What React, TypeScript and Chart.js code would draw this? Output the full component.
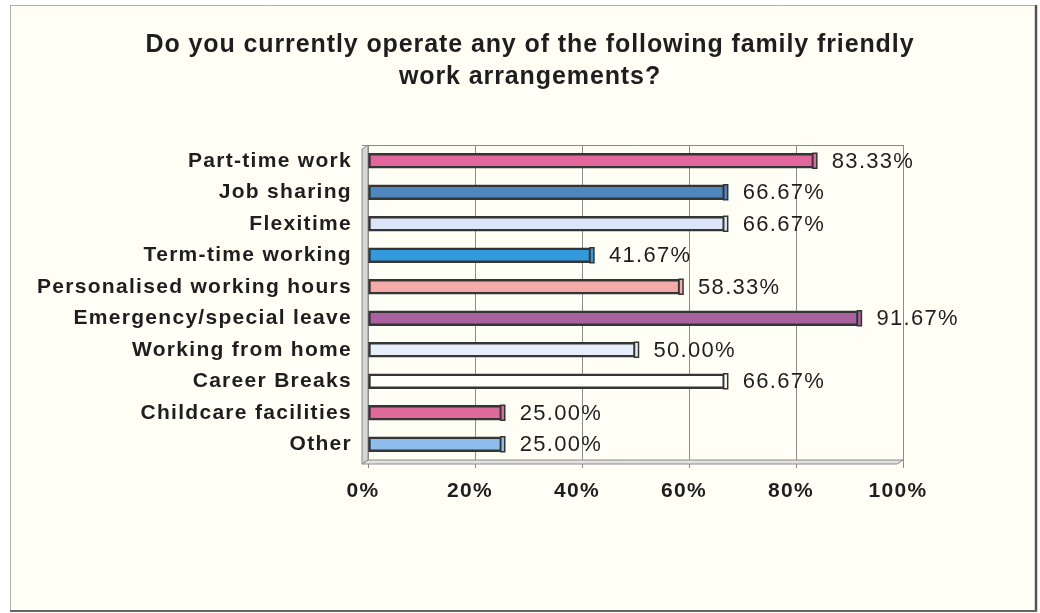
import React, { useEffect, useRef } from 'react';
import { Chart, registerables } from 'chart.js';

Chart.register(...registerables);

const titleLines = [
  'Do you currently operate any of the following family friendly',
  'work arrangements?',
];

const categories = [
  'Part-time work',
  'Job sharing',
  'Flexitime',
  'Term-time working',
  'Personalised working hours',
  'Emergency/special leave',
  'Working from home',
  'Career Breaks',
  'Childcare facilities',
  'Other',
];

const values = [83.33, 66.67, 66.67, 41.67, 58.33, 91.67, 50.0, 66.67, 25.0, 25.0];

const barColors = [
  '#E2679C',
  '#4F86BE',
  '#DCE5F7',
  '#3399DD',
  '#F5AAAA',
  '#A8609E',
  '#E6EEFB',
  '#FFFFFA',
  '#DD6A98',
  '#8EBDEC',
];

const xTickValues = [0, 20, 40, 60, 80, 100];

const W = 1040;
const H = 613;
const FONT = '"Liberation Sans", Arial, sans-serif';
const PAD_LEFT = 20;

const framePlugin = {
  id: 'framePlugin',
  beforeDraw(chart: any) {
    const ctx = chart.ctx;
    ctx.save();
    ctx.fillStyle = '#ffffff';
    ctx.fillRect(0, 0, W, H);
    ctx.fillStyle = '#FFFFF6';
    ctx.fillRect(10, 5, 1026, 606);
    ctx.strokeStyle = '#b0b0b0';
    ctx.lineWidth = 1;
    ctx.beginPath();
    ctx.moveTo(10.5, 5);
    ctx.lineTo(10.5, 611);
    ctx.moveTo(10, 5.5);
    ctx.lineTo(1036, 5.5);
    ctx.stroke();
    ctx.strokeStyle = '#555555';
    ctx.lineWidth = 2.5;
    ctx.beginPath();
    ctx.moveTo(1036, 5);
    ctx.lineTo(1036, 612);
    ctx.stroke();
    ctx.lineWidth = 2;
    ctx.strokeStyle = '#666666';
    ctx.beginPath();
    ctx.moveTo(10, 611);
    ctx.lineTo(1037, 611);
    ctx.stroke();
    // title
    (ctx as any).letterSpacing = '0.9px';
    ctx.font = `bold 25px ${FONT}`;
    ctx.fillStyle = '#1e1e1e';
    ctx.textAlign = 'center';
    ctx.textBaseline = 'middle';
    ctx.fillText(titleLines[0], 530, 45);
    ctx.fillText(titleLines[1], 530, 77);
    ctx.restore();
    (ctx as any).letterSpacing = '1.3px';
  },
  beforeDatasetsDraw(chart: any) {
    const ctx = chart.ctx;
    const a = chart.chartArea;
    ctx.save();
    // left wall (3D)
    ctx.fillStyle = '#D6D6D2';
    ctx.beginPath();
    ctx.moveTo(a.left - 6, a.top + 4);
    ctx.lineTo(a.left, a.top);
    ctx.lineTo(a.left, a.bottom);
    ctx.lineTo(a.left - 6, a.bottom + 4);
    ctx.closePath();
    ctx.fill();
    ctx.strokeStyle = '#8a8a8a';
    ctx.lineWidth = 1;
    ctx.stroke();
    // floor
    ctx.fillStyle = '#E2E2DE';
    ctx.beginPath();
    ctx.moveTo(a.left, a.bottom);
    ctx.lineTo(a.right, a.bottom);
    ctx.lineTo(a.right - 6, a.bottom + 4);
    ctx.lineTo(a.left - 6, a.bottom + 4);
    ctx.closePath();
    ctx.fill();
    ctx.stroke();
    // top border of plot area
    ctx.beginPath();
    ctx.moveTo(a.left, a.top + 0.5);
    ctx.lineTo(a.right, a.top + 0.5);
    ctx.stroke();
    ctx.restore();
  },
  afterDatasetsDraw(chart: any) {
    const ctx = chart.ctx;
    const meta = chart.getDatasetMeta(0);
    ctx.save();
    meta.data.forEach((bar: any, i: number) => {
      const h = bar.height;
      const x = bar.x;
      const y = bar.y;
      // 3D end cap
      ctx.fillStyle = barColors[i];
      ctx.strokeStyle = '#333333';
      ctx.lineWidth = 1.5;
      ctx.fillRect(x - 1, y - h / 2, 4, h);
      ctx.strokeRect(x - 1, y - h / 2, 4, h);
      // value label
      (ctx as any).letterSpacing = '1.3px';
      ctx.font = `22px ${FONT}`;
      ctx.fillStyle = '#1e1e1e';
      ctx.textAlign = 'left';
      ctx.textBaseline = 'middle';
      ctx.fillText(values[i].toFixed(2) + '%', x + 18, y + 1);
    });
    ctx.restore();
  },
  afterDraw(chart: any) {
    (chart.ctx as any).letterSpacing = '0px';
  },
};

export default function App() {
  const canvasRef = useRef<HTMLCanvasElement | null>(null);

  useEffect(() => {
    const canvas = canvasRef.current;
    if (!canvas) return;
    const chart = new Chart(canvas, {
      type: 'bar',
      data: {
        labels: categories,
        datasets: [
          {
            data: values,
            backgroundColor: barColors,
            borderColor: '#353535',
            borderWidth: 2.5,
            borderSkipped: false,
            barThickness: 15,
          },
        ],
      },
      options: {
        indexAxis: 'y',
        animation: false,
        responsive: false,
        devicePixelRatio: 1,
        layout: { padding: { left: PAD_LEFT, right: 137, top: 145, bottom: 0 } },
        plugins: {
          legend: { display: false },
          tooltip: { enabled: false },
          title: { display: false },
        },
        scales: {
          x: {
            min: 0,
            max: 100,
            afterFit(scale: any) {
              scale.height = 153;
            },
            afterBuildTicks(scale: any) {
              scale.ticks = xTickValues.map((v) => ({ value: v }));
            },
            ticks: {
              callback: (v: any) => v + '%',
              color: '#1e1e1e',
              font: { family: FONT, size: 21, weight: 'bold' },
              padding: 11,
              labelOffset: -5,
              maxRotation: 0,
            },
            grid: {
              color: '#8c8c8c',
              lineWidth: 1,
              tickLength: 8,
              drawTicks: true,
            },
            border: { display: true, color: '#8c8c8c' },
          },
          y: {
            afterFit(scale: any) {
              scale.width = 368 - PAD_LEFT;
            },
            ticks: {
              color: '#1e1e1e',
              font: { family: FONT, size: 21, weight: 'bold' },
              padding: 10,
              autoSkip: false,
            },
            grid: {
              drawOnChartArea: false,
              drawTicks: true,
              tickLength: 6,
              color: '#8c8c8c',
              offset: true,
            },
            border: { display: true, color: '#8c8c8c' },
          },
        },
      },
      plugins: [framePlugin],
    } as any);
    return () => chart.destroy();
  }, []);

  return (
    <div style={{ position: 'absolute', left: 0, top: 0, width: W, height: H }}>
      <canvas ref={canvasRef} width={W} height={H} style={{ width: W, height: H, display: 'block' }} />
    </div>
  );
}
